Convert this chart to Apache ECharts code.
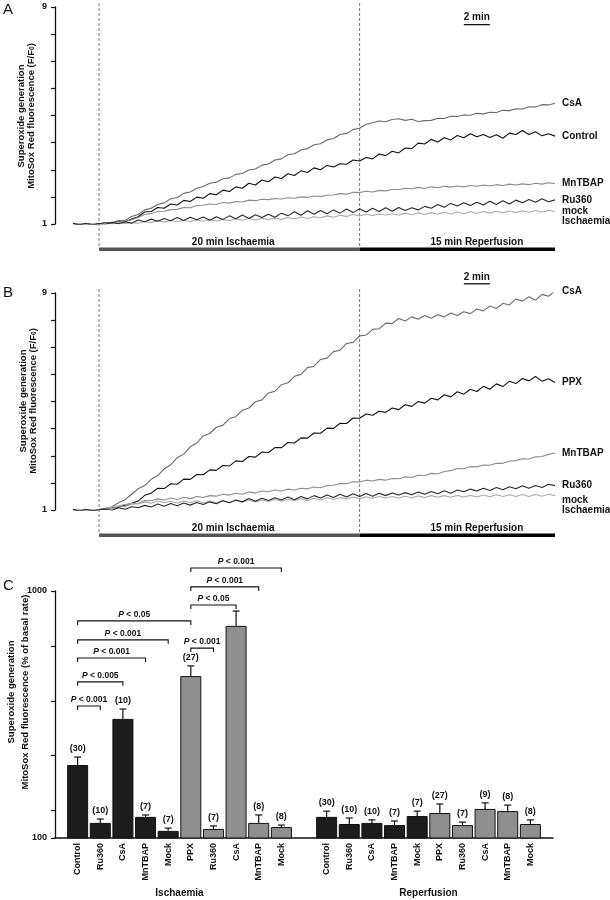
<!DOCTYPE html>
<html><head><meta charset="utf-8">
<script src="https://cdn.jsdelivr.net/npm/echarts@6/dist/echarts.min.js"></script>
<style>html,body{margin:0;padding:0;background:#fff}#c{width:610px;height:900px}</style>
</head><body><div id="c"></div><script>
const F = "'Liberation Sans', Arial, sans-serif";

// ---- Panels A & B: time (min) ----
const TIME = [-2,-1.5,-1,-0.5,0,0.5,1,1.5,2,2.5,3,3.5,4,4.5,5,5.5,6,6.5,7,7.5,8,8.5,9,9.5,10,10.5,11,11.5,12,12.5,13,13.5,14,14.5,15,15.5,16,16.5,17,17.5,18,18.5,19,19.5,20,20.5,21,21.5,22,22.5,23,23.5,24,24.5,25,25.5,26,26.5,27,27.5,28,28.5,29,29.5,30,30.5,31,31.5,32,32.5,33,33.5,34,34.5,35];

// Panel A traces (F/F0)
const A_CSA = [1.01,0.98,1.02,0.99,1.0,1.05,1.05,1.13,1.14,1.28, 1.35,1.52,1.58,1.72,1.78,1.93,1.98,2.13,2.18,2.32, 2.38,2.5,2.54,2.67,2.7,2.83,2.86,2.99,3.03,3.17, 3.21,3.36,3.4,3.55,3.59,3.73,3.78,3.92,3.96,4.1, 4.15,4.3,4.34,4.48,4.53,4.68,4.73,4.8,4.77,4.85, 4.88,4.82,4.86,4.78,4.81,4.82,4.9,4.89,4.97,4.96, 5.02,5.01,5.08,5.06,5.12,5.11,5.19,5.18,5.25,5.24, 5.32,5.31,5.4,5.39,5.45];
const A_CONTROL = [1.02,0.97,1.03,0.98,1.01,1.04,1.02,1.09,1.08,1.18, 1.27,1.44,1.46,1.61,1.58,1.74,1.7,1.87,1.83,1.99, 1.95,2.12,2.08,2.25,2.2,2.37,2.32,2.5,2.44,2.62, 2.56,2.73,2.68,2.85,2.79,2.96,2.9,3.07,3.0,3.16, 3.1,3.22,3.2,3.36,3.32,3.45,3.4,3.58,3.52,3.68, 3.62,3.8,3.78,3.98,3.95,4.12,4.02,4.18,4.1,4.26, 4.18,4.33,4.22,4.3,4.19,4.29,4.16,4.35,4.3,4.45, 4.3,4.4,4.25,4.33,4.24];
const A_MNTBAP = [1.01,0.99,1.02,0.98,1.0,1.03,1.04,1.08,1.1,1.16, 1.24,1.35,1.39,1.46,1.47,1.53,1.54,1.61,1.6,1.68, 1.69,1.74,1.72,1.79,1.77,1.83,1.81,1.88,1.86,1.91, 1.9,1.94,1.92,1.97,1.95,2.0,1.98,2.03,2.01,2.06, 2.07,2.12,2.1,2.17,2.16,2.21,2.18,2.24,2.22,2.27, 2.27,2.32,2.3,2.35,2.31,2.37,2.34,2.39,2.36,2.4, 2.37,2.42,2.39,2.44,2.4,2.45,2.42,2.47,2.44,2.48, 2.45,2.5,2.47,2.52,2.49];
const A_RU360 = [1.03,0.97,1.02,0.96,1.02,0.99,1.06,1.01,1.08,1.03, 1.15,1.08,1.18,1.1,1.2,1.12,1.24,1.13,1.25,1.16, 1.26,1.14,1.27,1.17,1.3,1.19,1.33,1.2,1.34,1.24, 1.36,1.25,1.4,1.3,1.45,1.32,1.49,1.36,1.5,1.38, 1.52,1.4,1.55,1.42,1.56,1.44,1.58,1.46,1.6,1.47, 1.61,1.5,1.6,1.52,1.65,1.58,1.72,1.62,1.76,1.66, 1.78,1.68,1.8,1.7,1.84,1.72,1.86,1.74,1.88,1.78, 1.9,1.8,1.93,1.82,1.89];
const A_MOCK = [0.99,1.02,0.97,1.01,0.98,1.03,1.0,1.05,1.01,1.06, 1.03,1.09,1.05,1.12,1.07,1.13,1.08,1.14,1.09,1.15, 1.1,1.16,1.11,1.17,1.12,1.19,1.14,1.2,1.15,1.21, 1.16,1.22,1.17,1.24,1.19,1.26,1.2,1.27,1.23,1.3, 1.25,1.32,1.28,1.35,1.3,1.36,1.31,1.37,1.33,1.38, 1.33,1.4,1.34,1.41,1.35,1.42,1.36,1.43,1.37,1.44, 1.38,1.45,1.39,1.46,1.4,1.47,1.41,1.48,1.42,1.49, 1.43,1.5,1.44,1.5,1.46];

// Panel B traces (F/F0)
const B_CSA = [1.02,0.98,1.03,0.97,1.01,1.06,1.12,1.27,1.38,1.58, 1.78,1.9,2.13,2.27,2.52,2.66,2.93,3.06,3.33,3.47, 3.73,3.82,4.05,4.12,4.37,4.44,4.68,4.76,4.99,5.06, 5.31,5.38,5.62,5.69,5.93,6.0,6.25,6.3,6.55,6.6, 6.84,6.89,7.14,7.18,7.42,7.45,7.66,7.68,7.89,7.87, 8.06,7.97,8.12,8.03,8.17,8.07,8.2,8.12,8.26,8.17, 8.31,8.24,8.41,8.34,8.52,8.43,8.62,8.56,8.78,8.7, 8.86,8.73,8.95,8.88,9.08];
const B_PPX = [1.01,0.97,1.02,0.98,1.02,1.04,1.08,1.1,1.18,1.25, 1.33,1.54,1.62,1.8,1.79,1.97,1.95,2.14,2.13,2.31, 2.3,2.48,2.46,2.64,2.62,2.81,2.79,2.97,2.95,3.14, 3.12,3.3,3.3,3.49,3.47,3.66,3.65,3.84,3.83,4.02, 4.01,4.2,4.19,4.39,4.38,4.54,4.49,4.64,4.6,4.76, 4.7,4.88,4.82,5.0,4.94,5.12,5.06,5.25,5.17,5.36, 5.27,5.45,5.37,5.56,5.45,5.65,5.55,5.75,5.66,5.85, 5.76,5.92,5.75,5.84,5.7];
const B_MNTBAP = [1.02,0.98,1.01,0.97,1.02,1.05,1.06,1.12,1.14,1.22, 1.24,1.35,1.34,1.41,1.37,1.44,1.39,1.47,1.42,1.5, 1.46,1.53,1.51,1.58,1.55,1.62,1.58,1.66,1.63,1.7, 1.67,1.74,1.7,1.77,1.74,1.8,1.78,1.85,1.82,1.9, 1.91,1.98,1.97,2.04,2.03,2.1,2.07,2.13,2.1,2.16, 2.15,2.22,2.2,2.28,2.27,2.35,2.33,2.42,2.45,2.53, 2.52,2.6,2.59,2.66,2.65,2.72,2.72,2.8,2.82,2.89, 2.88,2.96,2.97,3.05,3.1];
const B_RU360 = [1.03,0.96,1.02,0.97,1.01,1.04,0.99,1.08,1.03,1.12, 1.08,1.17,1.11,1.22,1.14,1.24,1.16,1.26,1.18,1.28, 1.2,1.3,1.23,1.34,1.27,1.37,1.3,1.42,1.32,1.43, 1.35,1.45,1.37,1.48,1.38,1.5,1.41,1.53,1.44,1.55, 1.46,1.58,1.48,1.6,1.5,1.61,1.51,1.62,1.53,1.63, 1.55,1.64,1.56,1.66,1.58,1.68,1.6,1.71,1.62,1.74, 1.67,1.77,1.7,1.8,1.72,1.83,1.75,1.86,1.78,1.89, 1.8,1.9,1.83,1.95,1.9];
const B_MOCK = [0.99,1.02,0.98,1.03,1.0,1.06,1.1,1.16,1.2,1.24, 1.22,1.3,1.25,1.33,1.27,1.32,1.26,1.33,1.27,1.34, 1.26,1.33,1.27,1.35,1.28,1.36,1.29,1.36,1.3,1.37, 1.31,1.39,1.32,1.4,1.34,1.42,1.35,1.43,1.37,1.45, 1.39,1.46,1.41,1.48,1.42,1.49,1.43,1.5,1.44,1.5, 1.44,1.51,1.45,1.52,1.46,1.53,1.47,1.53,1.47,1.54, 1.48,1.54,1.48,1.55,1.49,1.56,1.5,1.56,1.5,1.57, 1.5,1.57,1.51,1.58,1.53];

const Y_TICK_LABELS_AB = [1, 9];
const PHASE_START = [0, 20];
const PHASE_END = [20, 35];
const PHASE_LABEL_AT = [10.3, 29];
const PHASE_NAMES = ['20 min Ischaemia', '15 min Reperfusion'];
const SCALE_BAR = [28, 30];
const SCALE_BAR_LABEL = '2 min';

// ---- Panel C ----
const C_CATEGORIES = ['Control','Ru360','CsA','MnTBAP','Mock','PPX','Ru360','CsA','MnTBAP','Mock'];
const C_GROUPS = ['Ischaemia','Reperfusion'];
const ISCH_MEAN = [366,155,534,177,126,690,133,873,155,140];
const ISCH_SEM  = [29,14,36,7,10,37,11,54,29,7];
const ISCH_N    = [30,10,10,7,7,27,7,null,8,8];
const REP_MEAN  = [177,151,155,147,180,191,147,206,198,151];
const REP_SEM   = [21,22,11,15,18,33,11,22,22,15];
const REP_N     = [30,10,10,7,7,27,7,9,8,8];
const C_TICKS = [100,200,400,600,800,1000];
const C_TICK_LABELS = [100,1000];
const BR_FROM  = [0,0,0,0,0,5,5,5,5];
const BR_TO    = [1,2,3,4,5,6,7,8,9];
const BR_LEVEL = [581,669,756,822,891,792,949,1015,1084];
const BR_P     = ['0.001','0.005','0.001','0.001','0.05','0.001','0.05','0.001','0.001'];

// ---------- build ----------
const INK = '#111';
const axisCats = [''].concat(C_CATEGORIES, [''], C_CATEGORIES, ['']);
const ISCH_OFF = 1, REP_OFF = 12;
const blackBars = axisCats.map(() => '-');
const grayBars = axisCats.map(() => '-');
C_CATEGORIES.forEach((c, i) => {
  const tgt = i < 5 ? blackBars : grayBars;
  tgt[i + ISCH_OFF] = ISCH_MEAN[i];
  tgt[i + REP_OFF] = REP_MEAN[i];
});
const errData = [];
C_CATEGORIES.forEach((c, i) => {
  errData.push([i + ISCH_OFF, ISCH_MEAN[i], ISCH_MEAN[i] + ISCH_SEM[i], ISCH_N[i] == null ? -1 : ISCH_N[i]]);
  errData.push([i + REP_OFF, REP_MEAN[i], REP_MEAN[i] + REP_SEM[i], REP_N[i] == null ? -1 : REP_N[i]]);
});
const brData = BR_FROM.map((f, i) => [f + ISCH_OFF, BR_TO[i] + ISCH_OFF, BR_LEVEL[i], i]);
const groupData = [[ISCH_OFF, ISCH_OFF + 9, 100, 0], [REP_OFF, REP_OFF + 9, 100, 1]];

function trace(grid, name, vals, color, label, dy) {
  return {
    type: 'line', name: name, xAxisIndex: grid, yAxisIndex: grid,
    data: TIME.map((t, i) => [t, vals[i]]),
    showSymbol: false, symbol: 'none', silent: true,
    lineStyle: { color: color, width: 1.1 }, itemStyle: { color: color },
    endLabel: { show: true, formatter: () => label, distance: 7, offset: [0, dy],
      color: INK, fontFamily: F, fontWeight: 'bold', fontSize: 10, lineHeight: 10, align: 'left' },
    z: 3
  };
}

function annotations(grid, scaleLevel) {
  return [
    { // dashed phase boundaries
      type: 'custom', xAxisIndex: grid, yAxisIndex: grid, silent: true, clip: false,
      data: [[PHASE_START[1], 1], [PHASE_START[0], 1]],
      renderItem: (p, api) => {
        const top = api.coord([api.value(0), 9]);
        const bot = api.coord([api.value(0), 1]);
        return { type: 'line', shape: { x1: top[0], y1: top[1] - 4, x2: top[0], y2: bot[1] + 24 },
          style: { stroke: '#555', lineWidth: 0.8, lineDash: [3, 2] } };
      }, z: 1
    },
    { // phase bars
      type: 'custom', xAxisIndex: grid, yAxisIndex: grid, silent: true, clip: false,
      data: PHASE_START.map((s, i) => [s, PHASE_END[i], PHASE_LABEL_AT[i], i]),
      renderItem: (p, api) => {
        const a = api.coord([api.value(0), 1]);
        const b = api.coord([api.value(1), 1]);
        const l = api.coord([api.value(2), 1]);
        const i = api.value(3);
        return { type: 'group', children: [
          { type: 'rect', shape: { x: a[0], y: a[1] + 23.5, width: b[0] - a[0], height: 3.5 },
            style: { fill: i === 0 ? '#555' : '#000' } },
          { type: 'text', x: l[0], y: a[1] + 18, style: { text: PHASE_NAMES[i], fill: INK,
            font: 'bold 10px ' + F, align: 'center', verticalAlign: 'middle' } }
        ] };
      }
    },
    { // 2 min scale bar
      type: 'custom', xAxisIndex: grid, yAxisIndex: grid, silent: true, clip: false,
      data: [[SCALE_BAR[0], SCALE_BAR[1], scaleLevel]],
      renderItem: (p, api) => {
        const a = api.coord([api.value(0), api.value(2)]);
        const b = api.coord([api.value(1), api.value(2)]);
        return { type: 'group', children: [
          { type: 'line', shape: { x1: a[0], y1: a[1], x2: b[0], y2: b[1] }, style: { stroke: INK, lineWidth: 1.3 } },
          { type: 'text', x: (a[0] + b[0]) / 2, y: a[1] - 2, style: { text: SCALE_BAR_LABEL, fill: INK,
            font: 'bold 10px ' + F, align: 'center', verticalAlign: 'bottom' } }
        ] };
      }
    }
  ];
}

function abYAxis(grid) {
  return {
    gridIndex: grid, type: 'value', min: 1, max: 9, interval: 1, offset: 18,
    axisLine: { show: true, onZero: false, lineStyle: { color: INK, width: 1.3 } },
    axisTick: { show: true, length: 4, lineStyle: { color: INK, width: 1.2 } },
    axisLabel: { formatter: v => (Y_TICK_LABELS_AB.indexOf(v) >= 0 ? String(v) : ''),
      color: INK, fontFamily: F, fontWeight: 'bold', fontSize: 9, margin: 8 },
    splitLine: { show: false }
  };
}

const option = {
  animation: false,
  backgroundColor: '#fff',
  grid: [
    { left: 73, right: 55, top: 7, height: 217 },
    { left: 73, right: 55, top: 293, height: 217 },
    { left: 55, right: 57, top: 591, height: 247 }
  ],
  xAxis: [
    { gridIndex: 0, type: 'value', min: -2, max: 35, show: false },
    { gridIndex: 1, type: 'value', min: -2, max: 35, show: false },
    { gridIndex: 2, type: 'category', data: axisCats, boundaryGap: false,
      axisLine: { onZero: false, lineStyle: { color: INK, width: 1.5 } }, axisTick: { show: false },
      axisLabel: { interval: 0, rotate: 90, color: INK, fontFamily: F, fontWeight: 'bold', fontSize: 9, margin: 5 },
      splitLine: { show: false } }
  ],
  yAxis: [
    abYAxis(0), abYAxis(1),
    { gridIndex: 2, type: 'value', min: 100, max: 1000, interval: 100,
      axisLine: { show: true, onZero: false, lineStyle: { color: INK, width: 1.3 } },
      axisTick: { show: true, length: 4, lineStyle: { color: INK, width: 1.2 }, customValues: C_TICKS },
      axisLabel: { customValues: C_TICK_LABELS, formatter: v => String(v), color: INK, fontFamily: F, fontWeight: 'bold', fontSize: 9, margin: 8 },
      splitLine: { show: false } }
  ],
  graphic: [
    { type: 'text', x: 3, y: 2, style: { text: 'A', font: '15px ' + F, fill: INK } },
    { type: 'text', x: 3, y: 285, style: { text: 'B', font: '15px ' + F, fill: INK } },
    { type: 'text', x: 3, y: 578, style: { text: 'C', font: '15px ' + F, fill: INK } },
    { type: 'text', x: 26, y: 116, rotation: Math.PI / 2,
      style: { text: 'Superoxide generation\nMitoSox Red fluorescence (F/F{s|0})', align: 'center', verticalAlign: 'middle',
        font: 'bold 9.5px ' + F, fill: INK, lineHeight: 10, rich: { s: { font: 'bold 6.5px ' + F, fill: INK, verticalAlign: 'bottom', padding: [4, 0, 0, 0] } } } },
    { type: 'text', x: 28, y: 401, rotation: Math.PI / 2,
      style: { text: 'Superoxide generation\nMitoSox Red fluorescence (F/F{s|0})', align: 'center', verticalAlign: 'middle',
        font: 'bold 9.5px ' + F, fill: INK, lineHeight: 10, rich: { s: { font: 'bold 6.5px ' + F, fill: INK, verticalAlign: 'bottom', padding: [4, 0, 0, 0] } } } },
    { type: 'text', x: 18, y: 692, rotation: Math.PI / 2,
      style: { text: 'Superoxide generation\nMitoSox Red fluorescence (% of basal rate)', align: 'center', verticalAlign: 'middle',
        font: 'bold 9.5px ' + F, fill: INK, lineHeight: 14 } }
  ],
  series: [
    trace(0, 'CsA', A_CSA, '#6a6a6a', 'CsA', 0),
    trace(0, 'Control', A_CONTROL, '#111', 'Control', 0),
    trace(0, 'MnTBAP', A_MNTBAP, '#8c8c8c', 'MnTBAP', 0),
    trace(0, 'mock', A_MOCK, '#ababab', 'mock\nIschaemia', 5),
    trace(0, 'Ru360', A_RU360, '#2a2a2a', 'Ru360', 0),
    ...annotations(0, 8.35),
    trace(1, 'CsA', B_CSA, '#6a6a6a', 'CsA', 0),
    trace(1, 'PPX', B_PPX, '#111', 'PPX', 0),
    trace(1, 'MnTBAP', B_MNTBAP, '#8c8c8c', 'MnTBAP', 0),
    trace(1, 'mock', B_MOCK, '#ababab', 'mock\nIschaemia', 10),
    trace(1, 'Ru360', B_RU360, '#2a2a2a', 'Ru360', 0),
    ...annotations(1, 9.34),
    { type: 'bar', xAxisIndex: 2, yAxisIndex: 2, data: blackBars, barWidth: 21, barGap: '-100%',
      itemStyle: { color: '#1c1c1c', borderColor: INK, borderWidth: 1 }, silent: true },
    { type: 'bar', xAxisIndex: 2, yAxisIndex: 2, data: grayBars, barWidth: 21, barGap: '-100%',
      itemStyle: { color: '#8f8f8f', borderColor: INK, borderWidth: 1 }, silent: true },
    { // error bars + n
      type: 'custom', xAxisIndex: 2, yAxisIndex: 2, silent: true, clip: false, data: errData, z: 5,
      renderItem: (p, api) => {
        const a = api.coord([api.value(0), api.value(1)]);
        const b = api.coord([api.value(0), api.value(2)]);
        const n = api.value(3);
        const ch = [
          { type: 'line', shape: { x1: a[0], y1: a[1], x2: b[0], y2: b[1] }, style: { stroke: INK, lineWidth: 1.2 } },
          { type: 'line', shape: { x1: b[0] - 3.5, y1: b[1], x2: b[0] + 3.5, y2: b[1] }, style: { stroke: INK, lineWidth: 1.2 } }
        ];
        if (n > 0) ch.push({ type: 'text', x: b[0], y: b[1] - 4, style: { text: '(' + n + ')', fill: INK,
          font: 'bold 9px ' + F, align: 'center', verticalAlign: 'bottom' } });
        return { type: 'group', children: ch };
      }
    },
    { // significance brackets
      type: 'custom', xAxisIndex: 2, yAxisIndex: 2, silent: true, clip: false, data: brData, z: 5,
      renderItem: (p, api) => {
        const a = api.coord([api.value(0), api.value(2)]);
        const b = api.coord([api.value(1), api.value(2)]);
        const i = api.value(3);
        return { type: 'group', children: [
          { type: 'polyline', shape: { points: [[a[0], a[1] + 4], [a[0], a[1]], [b[0], a[1]], [b[0], a[1] + 4]] },
            style: { stroke: INK, lineWidth: 1.1, fill: null } },
          { type: 'text', x: (a[0] + b[0]) / 2, y: a[1] - 1.5, style: { text: '{i|P} < ' + BR_P[i], fill: INK,
            font: 'bold 8.5px ' + F, align: 'center', verticalAlign: 'bottom',
            rich: { i: { font: 'italic bold 8.5px ' + F, fill: INK } } } }
        ] };
      }
    },
    { // group labels
      type: 'custom', xAxisIndex: 2, yAxisIndex: 2, silent: true, clip: false, data: groupData,
      renderItem: (p, api) => {
        const a = api.coord([api.value(0), api.value(2)]);
        const b = api.coord([api.value(1), api.value(2)]);
        return { type: 'text', x: (a[0] + b[0]) / 2, y: a[1] + 55, style: { text: C_GROUPS[api.value(3)], fill: INK,
          font: 'bold 10px ' + F, align: 'center', verticalAlign: 'middle' } };
      }
    }
  ]
};
const chart = echarts.init(document.getElementById('c'), null, { renderer: 'canvas' });
chart.setOption(option);
</script></body></html>
